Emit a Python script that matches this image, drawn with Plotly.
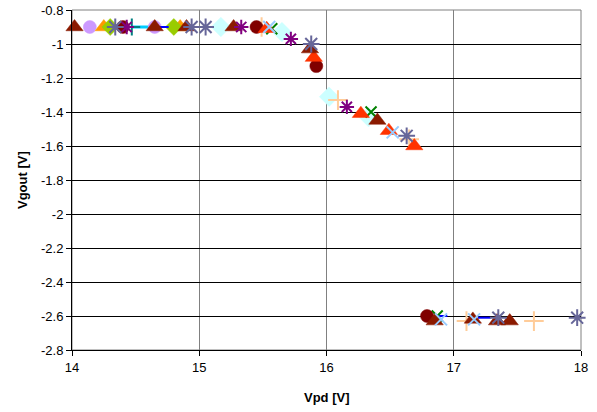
import plotly.graph_objects as go

# ---- data ----
x_ticks = [14, 15, 16, 17, 18]
x_tick_labels = ["14", "15", "16", "17", "18"]
y_ticks = [-0.8, -1.0, -1.2, -1.4, -1.6, -1.8, -2.0, -2.2, -2.4, -2.6, -2.8]
y_tick_labels = ["-0.8", "-1", "-1.2", "-1.4", "-1.6", "-1.8", "-2", "-2.2", "-2.4", "-2.6", "-2.8"]

darkred_tri_x = [14.02, 14.65, 14.90, 15.27, 15.87, 16.40, 16.85, 17.15, 17.34, 17.44]
darkred_tri_y = [-0.90, -0.90, -0.90, -0.90, -1.03, -1.45, -2.63, -2.62, -2.63, -2.63]

violet_circ_x = [14.14, 14.65]
violet_circ_y = [-0.90, -0.90]

orange_tri_x = [14.25, 14.85]
orange_tri_y = [-0.90, -0.90]

green_dia_x = [14.30, 14.80]
green_dia_y = [-0.90, -0.90]

slate_star_x = [14.34, 14.94, 15.05, 15.88, 16.63, 17.35, 17.97]
slate_star_y = [-0.90, -0.90, -0.90, -1.00, -1.54, -2.61, -2.61]

darkred_circ_x = [14.40, 15.45, 15.92, 16.79]
darkred_circ_y = [-0.90, -0.90, -1.13, -2.60]

purple_ast_x = [14.43, 15.33, 15.72, 16.16]
purple_ast_y = [-0.90, -0.90, -0.97, -1.37]

teal_cross_x = [14.47]
teal_cross_y = [-0.90]

cyan_line_x = [14.47, 14.62]
cyan_line_y = [-0.90, -0.90]

blue_dash_x = [14.71, 15.33, 16.33, 16.90, 17.24]
blue_dash_y = [-0.90, -0.90, -1.42, -2.60, -2.61]

lightcyan_dia_x = [15.17, 15.65, 16.02, 16.33]
lightcyan_dia_y = [-0.90, -0.93, -1.31, -1.43]

red_tri_x = [15.53, 15.90, 16.27, 16.49, 16.69]
red_tri_y = [-0.91, -1.08, -1.41, -1.51, -1.60]

peach_cross_x = [15.49, 16.09, 16.65, 17.10, 17.63]
peach_cross_y = [-0.90, -1.33, -1.56, -2.63, -2.63]

lightblue_x_x = [15.55, 16.52, 16.90, 17.16]
lightblue_x_y = [-0.90, -1.52, -2.62, -2.62]

green_x_x = [15.57, 16.35, 16.87]
green_x_y = [-0.91, -1.40, -2.60]

series = [
    ("cyan line", cyan_line_x, cyan_line_y, "lines", "circle", 0, "#00CCFF"),
    ("violet circle", violet_circ_x, violet_circ_y, "markers", "circle", 13, "#CC99FF"),
    ("orange triangle", orange_tri_x, orange_tri_y, "markers", "triangle-up", 15, "#FF9900"),
    ("green diamond", green_dia_x, green_dia_y, "markers", "diamond", 13, "#99CC00"),
    ("teal cross", teal_cross_x, teal_cross_y, "markers", "cross-thin-open", 12, "#008080"),
    ("blue dash", blue_dash_x, blue_dash_y, "markers", "line-ew-open", 9, "#0000FF"),
    ("lightcyan diamond", lightcyan_dia_x, lightcyan_dia_y, "markers", "diamond", 15, "#CCFFFF"),
    ("green x", green_x_x, green_x_y, "markers", "x-thin-open", 11, "#008000"),
    ("peach cross", peach_cross_x, peach_cross_y, "markers", "cross-thin-open", 14, "#FFCC99"),
    ("darkred circle", darkred_circ_x, darkred_circ_y, "markers", "circle", 13, "#800000"),
    ("red triangle", red_tri_x, red_tri_y, "markers", "triangle-up", 15, "#FF3300"),
    ("darkred triangle", darkred_tri_x, darkred_tri_y, "markers", "triangle-up", 15, "#8B1A00"),
    ("purple asterisk", purple_ast_x, purple_ast_y, "markers", "asterisk-open", 12, "#800080"),
    ("lightblue x", lightblue_x_x, lightblue_x_y, "markers", "x-thin-open", 12, "#99CCFF"),
    ("slate star", slate_star_x, slate_star_y, "markers", "asterisk-open", 14, "#666699"),
]

fig = go.Figure()
for name, xs, ys, mode, sym, size, color in series:
    if mode == "lines":
        fig.add_trace(go.Scatter(x=xs, y=ys, mode="lines", name=name,
                                 line=dict(color=color, width=3), cliponaxis=False))
    else:
        open_sym = sym.endswith("open")
        fig.add_trace(go.Scatter(
            x=xs, y=ys, mode="markers", name=name, cliponaxis=False,
            marker=dict(symbol=sym, size=size, color=color,
                        line=dict(color=color, width=2 if open_sym else 0.5))))

font_family = "Liberation Sans, Arial, sans-serif"
fig.update_layout(
    width=597, height=412,
    margin=dict(l=72, r=16, t=10, b=62),
    paper_bgcolor="white", plot_bgcolor="white",
    showlegend=False,
    font=dict(family=font_family, size=13, color="black"),
    xaxis=dict(range=[14, 18], tickvals=x_ticks, ticktext=x_tick_labels,
               showgrid=True, gridcolor="#808080", gridwidth=1,
               showline=True, linecolor="black", linewidth=1,
               ticks="outside", ticklen=5, tickcolor="black",
               zeroline=False, automargin=False),
    yaxis=dict(range=[-2.8, -0.8], tickvals=y_ticks, ticktext=y_tick_labels,
               showgrid=True, gridcolor="black", gridwidth=1,
               showline=True, linecolor="black", linewidth=1,
               ticks="outside", ticklen=5, tickcolor="black",
               zeroline=False, automargin=False),
    annotations=[
        dict(text="<b>Vpd [V]</b>", xref="paper", yref="paper", x=0.5, y=0,
             yshift=-47, showarrow=False, xanchor="center", yanchor="middle",
             font=dict(size=13)),
        dict(text="<b>Vgout [V]</b>", xref="paper", yref="paper", x=0, y=0.5,
             xshift=-50, showarrow=False, textangle=-90, xanchor="center",
             yanchor="middle", font=dict(size=13)),
    ],
)
fig.add_shape(type="rect", xref="paper", yref="paper", x0=0, x1=1, y0=0, y1=1,
              line=dict(color="#808080", width=1), layer="below")

fig.write_html("out.html", config={"displayModeBar": False},
               post_script="document.body.style.margin='0px';")
